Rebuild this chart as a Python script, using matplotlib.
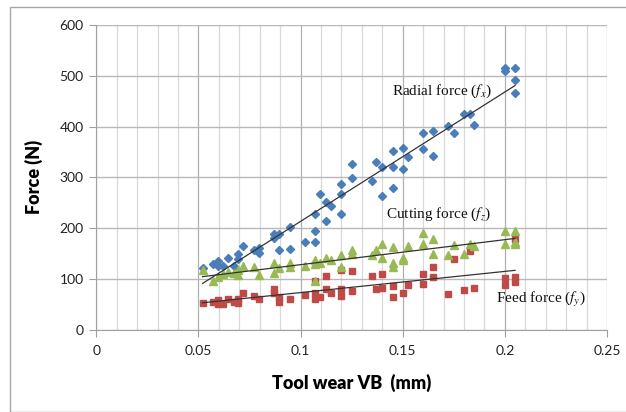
import numpy as np
import matplotlib
matplotlib.use("Agg")
import matplotlib.pyplot as plt
from matplotlib.patches import Rectangle

# ---- data ----
radial_x = [0.052, 0.057, 0.0595, 0.0595, 0.062, 0.0646, 0.0672, 0.0693, 0.0693, 0.072,
            0.077, 0.0796, 0.0796, 0.087, 0.087, 0.0896, 0.0896, 0.0946, 0.0946, 0.1023,
            0.107, 0.107, 0.107, 0.1097, 0.1123, 0.1123, 0.1147, 0.12, 0.12, 0.12,
            0.125, 0.125, 0.135, 0.137, 0.14, 0.14, 0.145, 0.145, 0.145, 0.15,
            0.15, 0.1526, 0.16, 0.16, 0.165, 0.165, 0.1724, 0.175, 0.18, 0.1827,
            0.185, 0.2, 0.2, 0.205, 0.205, 0.205]
radial_y = [121, 130, 136, 125, 125, 141, 126, 140, 149, 164,
            156, 161, 151, 189, 180, 189, 157, 202, 158, 173,
            173, 194, 228, 268, 251, 215, 243, 286, 268, 228,
            326, 298, 292, 330, 320, 264, 352, 320, 279, 358,
            317, 340, 388, 355, 392, 343, 402, 388, 424, 424,
            403, 515, 509, 515, 492, 467]

cutting_x = [0.052, 0.057, 0.0595, 0.062, 0.0646, 0.0672, 0.0693, 0.0693, 0.072, 0.077,
             0.0796, 0.087, 0.087, 0.0896, 0.0946, 0.0946, 0.1023, 0.107, 0.107, 0.107,
             0.1097, 0.1123, 0.1147, 0.12, 0.12, 0.125, 0.125, 0.135, 0.137, 0.14,
             0.14, 0.145, 0.145, 0.145, 0.15, 0.15, 0.1526, 0.16, 0.16, 0.165,
             0.165, 0.1724, 0.175, 0.18, 0.1827, 0.185, 0.2, 0.2, 0.205, 0.205, 0.205]
cutting_y = [117, 96, 104, 110, 114, 112, 117, 107, 125, 123,
             107, 131, 112, 122, 131, 123, 126, 137, 129, 95,
             131, 141, 137, 147, 123, 157, 150, 147, 156, 169,
             142, 162, 131, 124, 141, 138, 165, 191, 169, 179,
             150, 147, 167, 150, 169, 165, 195, 169, 195, 173, 169]

feed_x = [0.052, 0.057, 0.0595, 0.0595, 0.062, 0.0646, 0.0672, 0.0693, 0.0693, 0.072,
          0.077, 0.0796, 0.087, 0.087, 0.0896, 0.0896, 0.0946, 0.1023, 0.107, 0.107,
          0.107, 0.1097, 0.1123, 0.1123, 0.1147, 0.12, 0.12, 0.12, 0.125, 0.125,
          0.135, 0.137, 0.14, 0.14, 0.145, 0.145, 0.15, 0.1526, 0.16, 0.16,
          0.165, 0.165, 0.1724, 0.175, 0.18, 0.1827, 0.185, 0.2, 0.2, 0.205,
          0.205, 0.205]
feed_y = [52, 54, 58, 51, 50, 60, 54, 61, 53, 72,
          67, 60, 81, 72, 65, 55, 61, 68, 95, 73,
          60, 65, 106, 80, 73, 117, 80, 67, 116, 77,
          106, 81, 109, 83, 86, 65, 72, 88, 109, 90,
          124, 104, 70, 139, 78, 154, 83, 101, 89, 104,
          94, 179]

x_ticks = [0, 0.05, 0.1, 0.15, 0.2, 0.25]
x_tick_labels = ["0", "0.05", "0.1", "0.15", "0.2", "0.25"]
y_ticks = [0, 100, 200, 300, 400, 500, 600]

plt.rcParams['mathtext.fontset'] = 'stix'

fig = plt.figure(figsize=(6.26, 4.12), dpi=100)
ax = fig.add_axes([96.3 / 626, 82.3 / 412, (607 - 96.3) / 626, (329.7 - 25) / 412])

# outer frame
fig.patches.append(Rectangle((10 / 626, 0), 2, (412 - 7) / 412, transform=fig.transFigure,
                             fill=False, edgecolor="#a6a6a6", linewidth=1.0))

ax.set_xlim(0, 0.25)
ax.set_ylim(0, 600)

# grid
ax.set_xticks(np.arange(0, 0.2501, 0.01), minor=True)
ax.set_xticks(x_ticks)
ax.set_xticklabels(x_tick_labels)
ax.set_yticks(y_ticks)
ax.grid(True, which="minor", axis="x", color="#d9d9d9", linewidth=0.9)
ax.grid(True, which="major", axis="x", color="#b0b0b0", linewidth=0.9)
ax.grid(True, which="major", axis="y", color="#b8b8b8", linewidth=1.0)
ax.set_axisbelow(True)

for s in ["top", "right"]:
    ax.spines[s].set_visible(False)
ax.spines["left"].set_color("#a0a0a0")
ax.spines["bottom"].set_color("#a0a0a0")
ax.tick_params(axis="x", which="minor", length=0)
ax.tick_params(axis="x", which="major", length=5, color="#a0a0a0", pad=6)
ax.tick_params(axis="y", which="major", length=5, color="#a0a0a0", pad=4)

for lab in ax.get_xticklabels() + ax.get_yticklabels():
    lab.set_fontfamily("Lato")
    lab.set_fontsize(10)
    lab.set_color("#222222")

# markers
ax.plot(radial_x, radial_y, linestyle="none", marker="D", ms=4.2, color="#4a7ebb", zorder=3)
ax.plot(feed_x, feed_y, linestyle="none", marker="s", ms=4.8, color="#be4b48", zorder=3)
ax.plot(cutting_x, cutting_y, linestyle="none", marker="^", ms=5.4, color="#98b954", zorder=3)

# linear trendlines
for xs, ys in [(radial_x, radial_y), (cutting_x, cutting_y), (feed_x, feed_y)]:
    xs = np.asarray(xs); ys = np.asarray(ys)
    k, b = np.polyfit(xs, ys, 1)
    xx = np.array([xs.min(), xs.max()])
    ax.plot(xx, k * xx + b, color="#333333", linewidth=0.9, zorder=4)

# annotations
tkw = dict(fontfamily="Liberation Serif", fontsize=11, color="#111111", zorder=5)
ax.text(0.1448, 470, r"Radial force ($f_x$)", ha="left", va="center", **tkw)
ax.text(0.1418, 227, r"Cutting force ($f_z$)", ha="left", va="center", **tkw)
ax.text(0.1955, 60, r"Feed force ($f_y$)", ha="left", va="center", **tkw)

ax.set_xlabel("Tool wear VB  (mm)", fontfamily="Lato", fontweight="heavy", fontsize=13, labelpad=12)
ax.set_ylabel("Force (N)", fontfamily="Lato", fontweight="heavy", fontsize=13, labelpad=12)

fig.savefig("out.png", dpi=100)
